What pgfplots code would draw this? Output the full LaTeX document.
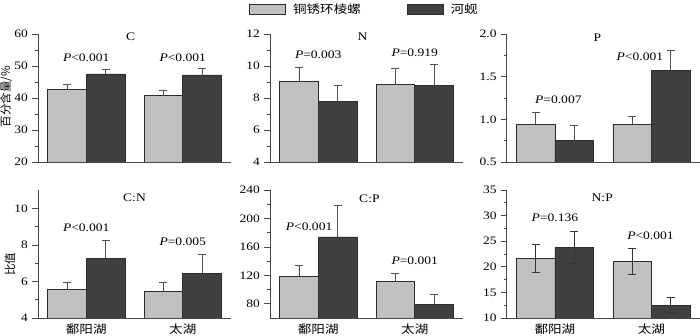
\documentclass[border=0pt]{standalone}
\usepackage{pgfplots}
\pgfplotsset{compat=1.18}
\usepackage{fontspec}
\setmainfont{Liberation Serif}
\newfontfamily\cjk{Noto Sans CJK SC}
\definecolor{lightbar}{RGB}{192,192,192}
\definecolor{darkbar}{RGB}{64,64,64}
\definecolor{bardraw}{RGB}{45,45,45}
\definecolor{axisgray}{RGB}{70,70,70}
\definecolor{errcol}{RGB}{80,80,80}
\tikzset{
  sx/.style={xscale=1.18, transform shape},
  plab/.style={font=\fontsize{11.5}{13}\selectfont, sx},
  ttl/.style={font=\fontsize{11.5}{13}\selectfont, sx},
}
\pgfplotsset{
  panel/.style={
    scale only axis, width=193pt, height=128pt,
    ybar, bar width=0.4,
    clip mode=individual,
    axis x line*=bottom, axis y line*=left,
    axis line style={axisgray, line width=0.8pt, -},
    xmin=-0.5, xmax=1.5, xtick={0,1},
    major x tick style={draw=none},
    tick align=outside,
    minor y tick num=1,
    tick style={axisgray, line width=0.7pt},
    major tick length=6pt, minor tick length=3pt,
    yticklabel style={font=\fontsize{11.4}{12}\selectfont, sx},
    /pgf/number format/assume math mode=true,
    xticklabels={},
  },
  bottomrow/.style={
    xticklabels={{\cjk 鄱阳湖},{\cjk 太湖}},
    xticklabel style={font=\fontsize{11.5}{13}\selectfont, sx, yshift=4pt},
  },
  barbase/.style={bar shift=0pt, draw=bardraw, line width=0.7pt,
    error bars/y dir=#1, error bars/y explicit,
    error bars/error bar style={errcol, line width=0.9pt},
    error bars/error mark options={rotate=90, errcol, mark size=4pt, line width=0.9pt}},
  lbar/.style={barbase=#1, fill=lightbar},
  lbar/.default=plus,
  dbar/.style={barbase=#1, fill=darkbar},
  dbar/.default=plus,
}
\begin{document}
\begin{tikzpicture}
\path[use as bounding box] (0,0) rectangle (700pt,336pt);
% ---------- C ----------
\begin{axis}[panel, at={(38pt,174pt)}, anchor=south west,
  ymin=20, ymax=60, ytick={20,30,...,60}]
\addplot[lbar] coordinates {(-0.2,42.7) +- (0,1.6) (0.8,40.7) +- (0,1.6)};
\addplot[dbar] coordinates {(0.2,47.5) +- (0,1.5) (1.2,47.2) +- (0,1.9)};
\node[ttl] at (axis cs:0.46,59) {C};
\node[plab] at (axis cs:0,52.7) {\textit{P}<0.001};
\node[plab] at (axis cs:1,52.7) {\textit{P}<0.001};
\node[rotate=90, font=\fontsize{11.5}{13}\selectfont] at (axis description cs:-0.165,0.51) {\cjk 百分含量/\%};
\end{axis}
% ---------- N ----------
\begin{axis}[panel, at={(270pt,174pt)}, anchor=south west,
  ymin=4, ymax=12, ytick={4,6,...,12},
  legend style={at={(axis description cs:0.49,1.195)}, anchor=center, draw=none, fill=none,
    legend columns=2,
    /tikz/every odd column/.append style={column sep=5pt},
    /tikz/every even column/.append style={column sep=44pt}},
  legend cell align=left]
\addlegendimage{legend image code/.code={\draw[fill=lightbar,draw=bardraw,line width=0.7pt] (0pt,-5pt) rectangle (36pt,5pt);}}
\addlegendentry{\fontsize{11.5}{13}\selectfont\cjk\scalebox{1.18}[1]{铜锈环棱螺}}
\addlegendimage{legend image code/.code={\draw[fill=darkbar,draw=bardraw,line width=0.7pt] (0pt,-5pt) rectangle (36pt,5pt);}}
\addlegendentry{\fontsize{11.5}{13}\selectfont\cjk\scalebox{1.18}[1]{河蚬}}
\addplot[lbar] coordinates {(-0.2,9.07) +- (0,0.83) (0.8,8.84) +- (0,1.0)};
\addplot[dbar] coordinates {(0.2,7.78) +- (0,0.98) (1.2,8.76) +- (0,1.33)};
\node[ttl] at (axis cs:0.46,11.8) {N};
\node[plab] at (axis cs:0,10.7) {\textit{P}=0.003};
\node[plab] at (axis cs:1,10.8) {\textit{P}=0.919};
\end{axis}
% ---------- P ----------
\begin{axis}[panel, at={(506.7pt,174pt)}, anchor=south west,
  ymin=0.5, ymax=2.0, ytick={0.5,1.0,1.5,2.0},
  yticklabel style={/pgf/number format/.cd, fixed, fixed zerofill, precision=1}]
\addplot[lbar] coordinates {(-0.2,0.944) +- (0,0.133) (0.8,0.944) +- (0,0.09)};
\addplot[dbar] coordinates {(0.2,0.75) +- (0,0.18) (1.2,1.57) +- (0,0.24)};
\node[ttl] at (axis cs:0.44,1.96) {P};
\node[plab] at (axis cs:0.035,1.23) {\textit{P}=0.007};
\node[plab] at (axis cs:0.88,1.73) {\textit{P}<0.001};
\end{axis}
% ---------- C:N ----------
\begin{axis}[panel, bottomrow, at={(38pt,18pt)}, anchor=south west,
  ymin=4, ymax=11, ytick={4,6,8,10}]
\addplot[lbar] coordinates {(-0.2,5.58) +- (0,0.37) (0.8,5.47) +- (0,0.48)};
\addplot[dbar] coordinates {(0.2,7.27) +- (0,0.98) (1.2,6.45) +- (0,1.0)};
\node[ttl] at (axis cs:0.5,10.55) {C:N};
\node[plab] at (axis cs:0,8.95) {\textit{P}<0.001};
\node[plab] at (axis cs:1,8.15) {\textit{P}=0.005};
\node[rotate=90, font=\fontsize{11.5}{13}\selectfont] at (axis description cs:-0.145,0.42) {\cjk 比值};
\end{axis}
% ---------- C:P ----------
\begin{axis}[panel, bottomrow, at={(270pt,18pt)}, anchor=south west,
  ymin=60, ymax=240, ytick={80,120,...,240}]
\addplot[lbar] coordinates {(-0.2,118.6) +- (0,15.4) (0.8,112) +- (0,10.4)};
\addplot[dbar] coordinates {(0.2,174.1) +- (0,44.3) (1.2,79) +- (0,13.7)};
\node[ttl] at (axis cs:0.53,228) {C:P};
\node[plab] at (axis cs:-0.095,189) {\textit{P}<0.001};
\node[plab] at (axis cs:1,140) {\textit{P}=0.001};
\end{axis}
% ---------- N:P ----------
\begin{axis}[panel, bottomrow, at={(506.7pt,18pt)}, anchor=south west,
  ymin=10, ymax=35, ytick={10,15,...,35}]
\addplot[lbar=both, error bars/error bar style={black!80}, error bars/error mark options={rotate=90, black!80, mark size=4pt, line width=0.9pt}] coordinates {(-0.2,21.6) +- (0,2.8) (0.8,21.0) +- (0,2.5)};
\addplot[dbar=both, error bars/error bar style={black!80}, error bars/error mark options={rotate=90, black!80, mark size=4pt, line width=0.9pt}] coordinates {(0.2,23.8) +- (0,3.2) (1.2,12.5) +- (0,1.5)};
\node[ttl] at (axis cs:0.49,33.4) {N:P};
\node[plab] at (axis cs:0,29.5) {\textit{P}=0.136};
\node[plab] at (axis cs:0.99,26) {\textit{P}<0.001};
\end{axis}
\end{tikzpicture}
\end{document}
